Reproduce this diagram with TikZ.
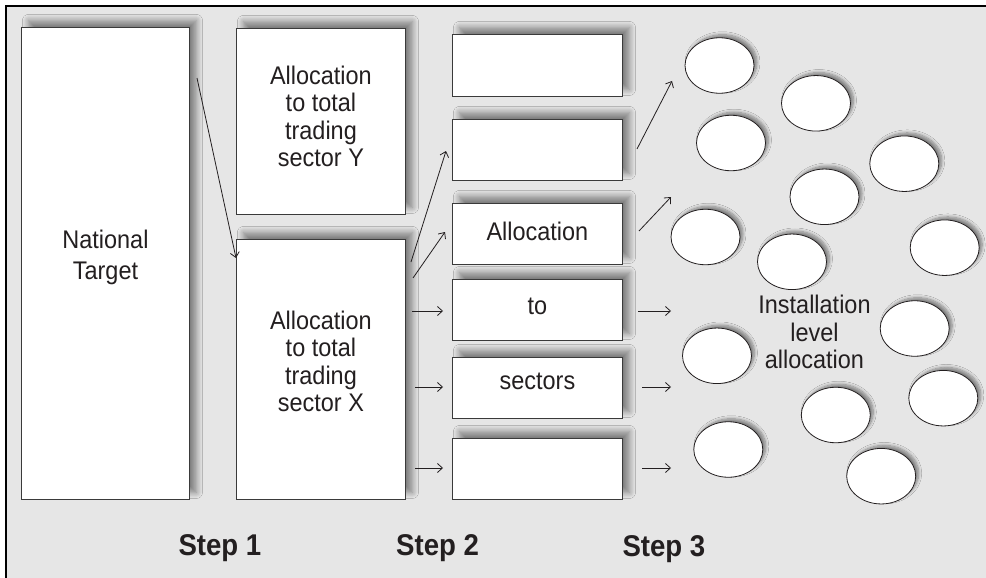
\documentclass[tikz,border=0pt]{standalone}
\usepackage{fontspec}
\setmainfont{Liberation Sans}[FakeStretch=0.92]
\usetikzlibrary{arrows.meta,shadows.blur,shapes.geometric}
\definecolor{bg}{HTML}{E6E6E6}
\definecolor{ink}{HTML}{231F20}
\definecolor{edge}{HTML}{3A3A3A}
\tikzset{
  txt/.style={font=\fontsize{25.5}{27.6}\selectfont, text=ink, align=center, inner sep=0pt},
  box/.style={draw=edge, line width=0.9pt, fill=white, inner sep=0pt, anchor=north west,
    blur shadow={shadow xshift=7pt, shadow yshift=7pt, shadow blur radius=6pt,
      shadow blur steps=10, shadow opacity=45}},
  oval/.style={ellipse, draw=ink, line width=0.8pt, fill=white, minimum width=69pt,
    minimum height=55.5pt, inner sep=0pt,
    blur shadow={shadow xshift=3pt, shadow yshift=3pt, shadow blur radius=3pt,
      shadow blur steps=8, shadow opacity=45}},
  arr/.style={-{Straight Barb[length=5pt,width=9pt]}, line width=0.8pt, draw=ink},
  steplabel/.style={font=\bfseries\fontsize{30}{34}\selectfont, text=ink, anchor=base west, inner sep=0pt}
}
\begin{document}
\begin{tikzpicture}[x=1pt,y=-1pt]
\useasboundingbox (0,0) rectangle (986,578);
\fill[bg] (6,5.7) rectangle (986,578);
\draw[line width=2pt,black] (6,578) -- (6,5.7) -- (986,5.7);

% step 1 boxes
\node[box, minimum width=168pt, minimum height=472pt,
  label={[txt, yshift=6pt]center:National\\[3pt]Target}] (NT) at (21,27) {};
\node[box, minimum width=169pt, minimum height=186pt,
  label={[txt, yshift=5pt]center:Allocation\\to total\\trading\\sector Y}] (SY) at (236,28) {};
\node[box, minimum width=169pt, minimum height=260pt,
  label={[txt, yshift=8pt]center:Allocation\\to total\\trading\\sector X}] (SX) at (236,239) {};

% step 2 boxes
\node[box, minimum width=170pt, minimum height=62pt] (R1) at (452,34) {};
\node[box, minimum width=170pt, minimum height=61pt] (R2) at (452,119) {};
\node[box, minimum width=170pt, minimum height=61pt,
  label={[txt, yshift=2.5pt]center:Allocation}] (R3) at (452,203) {};
\node[box, minimum width=170pt, minimum height=61pt,
  label={[txt, yshift=4pt]center:to}] (R4) at (452,279) {};
\node[box, minimum width=170pt, minimum height=61pt,
  label={[txt, yshift=6.5pt]center:sectors}] (R5) at (452,357) {};
\node[box, minimum width=170pt, minimum height=61pt] (R6) at (452,438) {};

% step 3 installations
\node[oval] (E1) at (719.5,65.5) {};
\node[oval] (E2) at (816,103.3) {};
\node[oval] (E3) at (731,143) {};
\node[oval] (E4) at (904.3,163.7) {};
\node[oval] (E5) at (824.5,196.8) {};
\node[oval] (E6) at (705.5,237) {};
\node[oval] (E7) at (792,261.8) {};
\node[oval] (E8) at (944.7,247.7) {};
\node[oval] (E9) at (914.7,328.5) {};
\node[oval] (E10) at (717,355.8) {};
\node[oval] (E11) at (943.3,398.2) {};
\node[oval] (E12) at (835.8,415) {};
\node[oval] (E13) at (728.3,449.5) {};
\node[oval] (E14) at (881.2,476.2) {};

\node[txt, anchor=north] (IL) at (814.5,295) {Installation\\level\\allocation};

% labels
\node[steplabel] (S1) at (178.3,555.7) {Step 1};
\node[steplabel] (S2) at (396,555.3) {Step 2};
\node[steplabel] (S3) at (622.3,556) {Step 3};

% connector end points
\coordinate (a0s) at (197,78);   \coordinate (a0e) at (236,258);
\coordinate (x1s) at (411,262);  \coordinate (x1e) at (446,151);
\coordinate (x2s) at (413,278);  \coordinate (x2e) at (445,232);
\coordinate (x3s) at (412,311);  \coordinate (x3e) at (443,311);
\coordinate (x4s) at (415,387);  \coordinate (x4e) at (443,387);
\coordinate (x5s) at (415,468);  \coordinate (x5e) at (443,468);
\coordinate (r1s) at (637,149);  \coordinate (r1e) at (672,81);
\coordinate (r2s) at (639,231);  \coordinate (r2e) at (671,197);
\coordinate (r3s) at (638,311);  \coordinate (r3e) at (671,311);
\coordinate (r4s) at (642,387);  \coordinate (r4e) at (671,387);
\coordinate (r5s) at (642,468);  \coordinate (r5e) at (671,468);

\draw[arr] (a0s) -- (a0e);
\draw[arr] (x1s) -- (x1e);
\draw[arr] (x2s) -- (x2e);
\draw[arr] (x3s) -- (x3e);
\draw[arr] (x4s) -- (x4e);
\draw[arr] (x5s) -- (x5e);
\draw[arr] (r1s) -- (r1e);
\draw[arr] (r2s) -- (r2e);
\draw[arr] (r3s) -- (r3e);
\draw[arr] (r4s) -- (r4e);
\draw[arr] (r5s) -- (r5e);
\end{tikzpicture}
\end{document}
